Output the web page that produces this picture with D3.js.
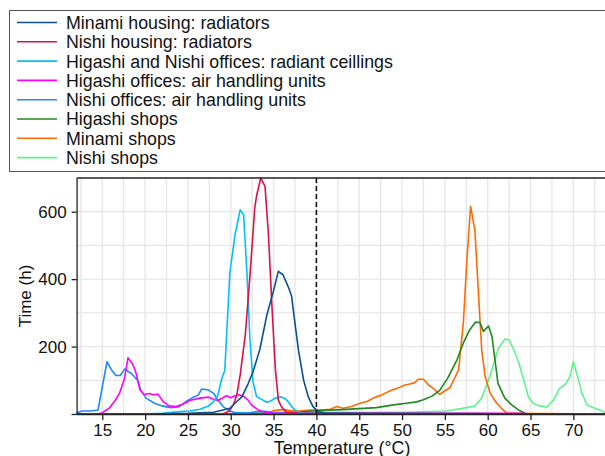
<!DOCTYPE html>
<html>
<head>
<meta charset="utf-8">
<script src="https://cdn.jsdelivr.net/npm/d3@7"></script>
<style>
  html, body { margin: 0; padding: 0; background: #fff; }
  svg { display: block; font-family: "Liberation Sans", Arial, sans-serif; }
</style>
</head>
<body>
<svg id="chart" width="605" height="456"></svg>
<script>
// ---- data (temperature °C, time h) ----
const seriesNames = [
  "Minami housing: radiators",
  "Nishi housing: radiators",
  "Higashi and Nishi offices: radiant ceillings",
  "Higashi offices: air handling units",
  "Nishi offices: air handling units",
  "Higashi shops",
  "Minami shops",
  "Nishi shops"
];
const seriesColors = ["#0b4f8f", "#dc0f4b", "#00bfff", "#ff00ff", "#1e88ff", "#1f8a1f", "#ff6a00", "#5cf58c"];

const minamiHousing = [[12,0],[20,0],[25,2],[28,5],[29.1,12],[29.9,17],[30.7,37],[31.3,51],[32.05,91],[32.6,125],[33.4,192],[34.2,292],[35,366],[35.55,423],[36.1,413],[36.7,378],[37.1,350],[37.5,269],[37.9,190],[38.5,101],[39.05,51],[39.6,22],[40.2,7],[41,3],[45,1],[74,0]];
const nishiHousing = [[12,0],[29,0],[29.8,8],[30.3,27],[30.7,56],[31.1,116],[31.7,235],[32.25,413],[32.8,611],[33.0,645],[33.5,700],[34,675],[34.4,532],[34.8,324],[35.2,136],[35.55,42],[35.9,22],[36.5,5],[38,2],[74,0]];
const radiantCeilings = [[12,0],[20,0],[22,2],[24.1,7],[25.2,9],[26.4,14],[27.4,24],[28,37],[28.5,56],[28.9,100],[29.3,130],[29.9,420],[30.5,532],[31.1,606],[31.5,591],[31.9,413],[32.25,215],[32.6,96],[33.0,52],[33.5,45],[34.2,35],[34.6,38],[35.2,47],[35.8,51],[36.3,46],[36.6,40],[37.1,22],[37.7,7],[38.5,2],[74,0]];
const higashiAHU = [[12,0],[14.5,0],[15,4],[15.8,17],[16.5,40],[17,61],[17.6,106],[18,167],[18.5,150],[18.9,126],[19.4,71],[19.9,58],[20.5,61],[21,57],[21.5,59],[22.1,37],[22.8,24],[23.6,22],[24.3,28],[25.2,40],[26.4,47],[27.4,50],[28,44],[28.5,40],[29.5,54],[30,48],[30.5,54],[31,57],[31.5,52],[32,42],[32.4,27],[33.2,12],[34,5],[35,2],[60,2],[64,2],[65,0],[74,0]];
const nishiAHU = [[12,4],[12.7,9],[13.7,9],[14.5,12],[15.55,155],[16.1,130],[16.6,114],[17.1,114],[17.6,133],[18.35,121],[19.1,101],[19.5,71],[20.1,47],[21.1,32],[22,24],[23,19],[24,22],[24.9,39],[25.5,48],[26.2,56],[26.6,74],[27.4,71],[28,61],[28.5,42],[29.1,22],[29.9,9],[30.5,4],[32,3],[33,7],[34,8],[35,5],[36,3],[38,2],[74,0]];
const higashiShops = [[12,0],[30,0],[35,3],[38,6],[40,10],[43,13],[47,19],[49,27],[50.5,32],[51.7,36],[52.5,42],[53.5,53],[54.4,70],[55.3,105],[56.4,160],[57.15,210],[57.9,250],[58.6,273],[59.1,271],[59.5,245],[60.1,261],[60.5,230],[60.9,150],[61.2,91],[62,47],[62.8,27],[63.6,12],[64.5,0],[74,0]];
const minamiShops = [[12,0],[34,0],[35,10],[36,13],[37,10],[38,9],[39.25,12],[40.4,12],[41.6,14],[42.4,22],[43.1,17],[44.1,22],[45.1,32],[45.9,37],[46.8,49],[47.6,56],[48.6,69],[49.4,76],[50.35,86],[50.9,89],[51.5,93],[51.9,103],[52.5,103],[53.1,86],[53.65,76],[54.05,66],[54.4,58],[55,69],[55.6,78],[56.6,131],[57.15,269],[57.6,467],[58.0,616],[58.5,546],[58.9,368],[59.3,190],[59.7,111],[60.3,61],[61.05,32],[61.8,12],[62.3,2],[74,0]];
const nishiShops = [[12,0],[30,0],[33,3],[40,5],[50,5],[55.2,9],[57.55,19],[58.5,24],[59.3,47],[60.3,116],[61.25,195],[62,222],[62.5,220],[63,193],[63.6,155],[64.2,101],[64.75,51],[65.3,32],[66.1,24],[66.9,20],[67.7,42],[68.4,76],[69,86],[69.6,111],[70,155],[70.5,111],[71,61],[71.6,27],[72.5,17],[73.1,12],[73.5,7],[74,2]];

const allSeries = [minamiHousing, nishiHousing, radiantCeilings, higashiAHU, nishiAHU, higashiShops, minamiShops, nishiShops];

const xTicks = [15,20,25,30,35,40,45,50,55,60,65,70];
const yTicks = [0,200,400,600];
const yTickLabels = ["", "200", "400", "600"];
const refTemperature = 40;

// ---- layout ----
const svg = d3.select("#chart");
const plot = { left: 76.6, top: 178, right: 607.6, bottom: 414 };
const x = d3.scaleLinear().domain([12, 74]).range([plot.left, plot.right]);
const y = d3.scaleLinear().domain([0, 700]).range([plot.bottom, plot.top]);

// gridlines
const gx = d3.range(12.5, 74.01, 2.5);
const gy = d3.range(100, 700, 100);
svg.append("g").selectAll("line").data(gx).join("line")
  .attr("x1", d => x(d)).attr("x2", d => x(d))
  .attr("y1", plot.top).attr("y2", plot.bottom)
  .attr("stroke", "#e6e6e6").attr("stroke-width", 1.3);
svg.append("g").selectAll("line").data(gy).join("line")
  .attr("x1", plot.left).attr("x2", plot.right)
  .attr("y1", d => y(d)).attr("y2", d => y(d))
  .attr("stroke", "#e6e6e6").attr("stroke-width", 1.3);

// series lines
const line = d3.line().x(d => x(d[0])).y(d => y(d[1]));
const order = d3.range(allSeries.length).reverse();
svg.append("g").selectAll("path").data(order).join("path")
  .attr("d", i => line(allSeries[i]))
  .attr("fill", "none")
  .attr("stroke", i => seriesColors[i])
  .attr("stroke-width", 1.6)
  .attr("stroke-linejoin", "round");

// reference dashed line
svg.append("line")
  .attr("x1", x(refTemperature)).attr("x2", x(refTemperature))
  .attr("y1", plot.top).attr("y2", plot.bottom)
  .attr("stroke", "#000").attr("stroke-width", 1.5)
  .attr("stroke-dasharray", "5,3");

// frame top
svg.append("line").attr("x1", plot.left).attr("x2", plot.right)
  .attr("y1", plot.top).attr("y2", plot.top)
  .attr("stroke", "#222").attr("stroke-width", 1.3);

// axes
const xAxis = d3.axisBottom(x).tickValues(xTicks).tickSize(6).tickPadding(4).tickSizeOuter(0);
const gxA = svg.append("g").attr("transform", `translate(0,${plot.bottom})`).call(xAxis);
gxA.select(".domain").attr("stroke", "#222").attr("stroke-width", 1.3);
gxA.selectAll(".tick line").attr("stroke", "#222").attr("stroke-width", 1.3);
gxA.selectAll("text").attr("font-size", 17).attr("fill", "#111")
  .attr("font-family", "Liberation Sans, Arial, sans-serif");

const yAxis = d3.axisLeft(y).tickValues(yTicks).tickFormat((d, i) => yTickLabels[i]).tickSize(5).tickPadding(5).tickSizeOuter(0);
const gyA = svg.append("g").attr("transform", `translate(${plot.left},0)`).call(yAxis);
gyA.select(".domain").attr("stroke", "#222").attr("stroke-width", 1.3);
gyA.selectAll(".tick line").attr("stroke", "#222").attr("stroke-width", 1.3);
gyA.selectAll("text").attr("font-size", 17).attr("fill", "#111")
  .attr("font-family", "Liberation Sans, Arial, sans-serif");

// axis titles
svg.append("text")
  .attr("x", (plot.left + plot.right) / 2).attr("y", 454)
  .attr("text-anchor", "middle").attr("font-size", 17.8).attr("fill", "#111")
  .text("Temperature (°C)");
svg.append("text")
  .attr("transform", `translate(31,${(plot.top + plot.bottom) / 2}) rotate(-90)`)
  .attr("text-anchor", "middle").attr("font-size", 17).attr("fill", "#111")
  .text("Time (h)");

// legend
svg.append("rect").attr("x", 9.5).attr("y", 10.5).attr("width", 620).attr("height", 161)
  .attr("fill", "#fff").attr("stroke", "#555").attr("stroke-width", 1);
const lg = svg.append("g").selectAll("g").data(seriesNames).join("g")
  .attr("transform", (d, i) => `translate(0,${22.5 + i * 19.3})`);
lg.append("line").attr("x1", 17).attr("x2", 57).attr("y1", 0).attr("y2", 0)
  .attr("stroke", (d, i) => seriesColors[i]).attr("stroke-width", 1.6);
lg.append("text").attr("x", 66).attr("y", 0).attr("dy", "0.36em")
  .attr("font-size", 17.8).attr("fill", "#111").text(d => d);
</script>
</body>
</html>
